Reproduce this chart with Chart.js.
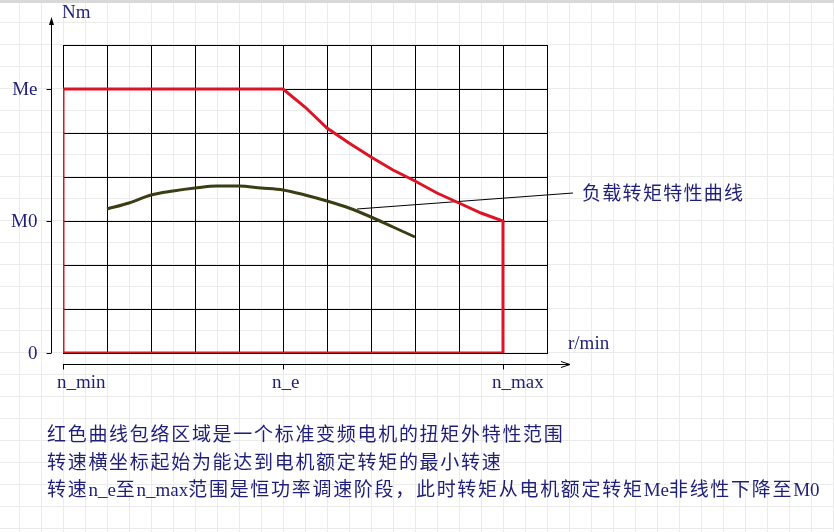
<!DOCTYPE html>
<html>
<head>
<meta charset="utf-8">
<script src="https://cdn.jsdelivr.net/npm/chart.js@4.4.1/dist/chart.umd.min.js"></script>
<style>
html, body { margin: 0; padding: 0; background: #fff; }
#wrap { width: 834px; height: 532px; }
</style>
</head>
<body>
<div id="wrap"><canvas id="torqueChart" width="834" height="532"></canvas></div>
<script>
// ============================================================================
// Data (speed in grid units, torque in grid units)
// ============================================================================
const envelopeSpeed  = [0, 0, 5, 5.5, 6, 6.5, 7, 7.5, 8, 8.5, 9, 9.5, 10, 10, 0];
const envelopeTorque = [0, 6, 6, 5.6, 5.11, 4.77, 4.46, 4.16, 3.92, 3.64, 3.42, 3.19, 3.0, 0, 0];

const loadSpeed  = [1, 1.5, 2, 2.5, 3, 3.5, 4, 4.5, 5, 5.5, 6, 6.5, 7, 7.5, 8];
const loadTorque = [3.27, 3.42, 3.58, 3.68, 3.75, 3.79, 3.79, 3.76, 3.70, 3.59, 3.45, 3.29, 3.10, 2.87, 2.64];

const leaderSpeed  = [6.68, 11.6];
const leaderTorque = [3.27, 3.64];

const xTickValues = [0, 5, 10];
const xTickLabels = ['n_min', 'n_e', 'n_max'];
const yTickValues = [0, 3, 6];
const yTickLabels = ['0', 'M0', 'Me'];

const xAxisTitle = 'r/min';
const yAxisTitle = 'Nm';
const curveLabel = '负载转矩特性曲线';
const noteLines = [
    '红色曲线包络区域是一个标准变频电机的扭矩外特性范围',
    '转速横坐标起始为能达到电机额定转矩的最小转速',
    '转速n_e至n_max范围是恒功率调速阶段，此时转矩从电机额定转矩Me非线性下降至M0'
];

const xGridMax = 11;
const yGridMax = 7;

// ============================================================================
// Styles
// ============================================================================
const TEXT_COLOR = '#1f1f78';
const LATIN_FONT = '19px "Liberation Serif", "DejaVu Serif", serif';
const CJK_FONT = '19px "Noto Sans CJK SC", sans-serif';

function toPoints(xs, ys) {
    return xs.map((x, i) => ({ x: x, y: ys[i] }));
}

// draws latin runs with the serif font and CJK runs char by char at a fixed pitch
function drawMixedText(ctx, text, x, y, pitch) {
    const runs = text.match(/[\x00-\x7f]+|[^\x00-\x7f]+/g);
    runs.forEach(run => {
        if (/^[\x00-\x7f]/.test(run)) {
            ctx.font = LATIN_FONT;
            ctx.fillText(run, x, y);
            x += ctx.measureText(run).width;
        } else {
            ctx.font = CJK_FONT;
            for (const ch of run) {
                ctx.fillText(ch, x, y);
                x += pitch;
            }
        }
    });
}

// ============================================================================
// Plugins
// ============================================================================
const paperPlugin = {
    id: 'paper',
    beforeDraw(chart) {
        const ctx = chart.ctx, w = chart.width, h = chart.height;
        ctx.save();
        ctx.fillStyle = '#ffffff';
        ctx.fillRect(0, 0, w, h);
        ctx.strokeStyle = '#ebebeb';
        ctx.lineWidth = 1;
        ctx.beginPath();
        for (let x = 19; x < w; x += 22) { ctx.moveTo(x + 0.5, 0); ctx.lineTo(x + 0.5, h); }
        for (let y = 22; y < h; y += 22) { ctx.moveTo(0, y + 0.5); ctx.lineTo(w, y + 0.5); }
        ctx.stroke();
        ctx.fillStyle = '#d8d8d8';
        ctx.fillRect(0, 0, w, 3);
        ctx.restore();
    }
};

const axesPlugin = {
    id: 'arrowAxes',
    afterDraw(chart) {
        const ctx = chart.ctx;
        const xs = chart.scales.x, ys = chart.scales.y;
        const area = chart.chartArea;
        const yAxisX = Math.round(area.left) - 11.5;
        const xAxisY = Math.round(area.bottom) + 11.5;

        ctx.save();
        ctx.strokeStyle = '#000';
        ctx.fillStyle = '#000';
        ctx.lineWidth = 1;

        // vertical axis with arrow
        ctx.beginPath();
        ctx.moveTo(yAxisX, ys.getPixelForValue(0));
        ctx.lineTo(yAxisX, 19);
        ctx.stroke();
        ctx.beginPath();
        ctx.moveTo(yAxisX, 17);
        ctx.lineTo(yAxisX - 2.5, 25);
        ctx.lineTo(yAxisX + 2.5, 25);
        ctx.closePath();
        ctx.fill();

        yTickValues.forEach(v => {
            const py = Math.round(ys.getPixelForValue(v)) + 0.5;
            ctx.beginPath();
            ctx.moveTo(yAxisX - 5, py);
            ctx.lineTo(yAxisX, py);
            ctx.stroke();
        });

        // horizontal axis with arrow
        const xEnd = xs.getPixelForValue(xGridMax) + 23;
        ctx.beginPath();
        ctx.moveTo(xs.getPixelForValue(0), xAxisY);
        ctx.lineTo(xEnd, xAxisY);
        ctx.moveTo(xEnd - 9, xAxisY - 3);
        ctx.lineTo(xEnd, xAxisY);
        ctx.lineTo(xEnd - 9, xAxisY + 3);
        ctx.stroke();

        xTickValues.forEach(v => {
            const px = Math.round(xs.getPixelForValue(v)) + 0.5;
            ctx.beginPath();
            ctx.moveTo(px, xAxisY);
            ctx.lineTo(px, xAxisY + 5);
            ctx.stroke();
        });

        // labels
        ctx.fillStyle = TEXT_COLOR;
        ctx.font = LATIN_FONT;
        ctx.textBaseline = 'middle';
        ctx.textAlign = 'right';
        yTickValues.forEach((v, i) => {
            ctx.fillText(yTickLabels[i], yAxisX - 14, ys.getPixelForValue(v) + 1);
        });

        ctx.textBaseline = 'alphabetic';
        ctx.textAlign = 'left';
        xTickValues.forEach((v, i) => {
            const px = xs.getPixelForValue(v);
            ctx.fillText(xTickLabels[i], px - (i === 0 ? 6 : 11), xAxisY + 23);
        });

        ctx.fillText(yAxisTitle, area.left - 1, 18);
        ctx.fillText(xAxisTitle, area.right + 21, area.bottom - 4);

        // curve label at end of leader line
        drawMixedText(ctx, curveLabel,
            xs.getPixelForValue(leaderSpeed[1]) + 9,
            ys.getPixelForValue(leaderTorque[1]) + 7, 20.3);

        // notes under the chart
        noteLines.forEach((line, i) => {
            drawMixedText(ctx, line, 47, 441 + i * 27.5, 20.7);
        });

        ctx.restore();
    }
};

// ============================================================================
// Chart
// ============================================================================
const ctx = document.getElementById('torqueChart').getContext('2d');

new Chart(ctx, {
    type: 'line',
    data: {
        datasets: [
            {
                label: 'envelope',
                data: toPoints(envelopeSpeed, envelopeTorque),
                borderColor: '#dd1426',
                borderWidth: 3,
                borderJoinStyle: 'miter',
                pointRadius: 0,
                tension: 0,
                fill: false
            },
            {
                label: 'load',
                data: toPoints(loadSpeed, loadTorque),
                borderColor: '#3b3d12',
                borderWidth: 3,
                pointRadius: 0,
                cubicInterpolationMode: 'monotone',
                fill: false
            },
            {
                label: 'leader',
                data: toPoints(leaderSpeed, leaderTorque),
                borderColor: '#000',
                borderWidth: 1,
                pointRadius: 0,
                tension: 0,
                fill: false,
                clip: false
            }
        ]
    },
    options: {
        responsive: false,
        animation: false,
        devicePixelRatio: 1,
        layout: {
            padding: { left: 63, top: 45, right: 287, bottom: 179 }
        },
        plugins: {
            legend: { display: false },
            tooltip: { enabled: false }
        },
        scales: {
            x: {
                type: 'linear',
                min: 0,
                max: xGridMax,
                alignToPixels: true,
                ticks: { stepSize: 1, display: false },
                grid: { color: '#000', lineWidth: 1, drawTicks: false },
                border: { display: true, color: '#000', width: 1 }
            },
            y: {
                type: 'linear',
                min: 0,
                max: yGridMax,
                alignToPixels: true,
                ticks: { stepSize: 1, display: false },
                grid: { color: '#000', lineWidth: 1, drawTicks: false },
                border: { display: true, color: '#000', width: 1 }
            }
        }
    },
    plugins: [paperPlugin, axesPlugin]
});
</script>
</body>
</html>
